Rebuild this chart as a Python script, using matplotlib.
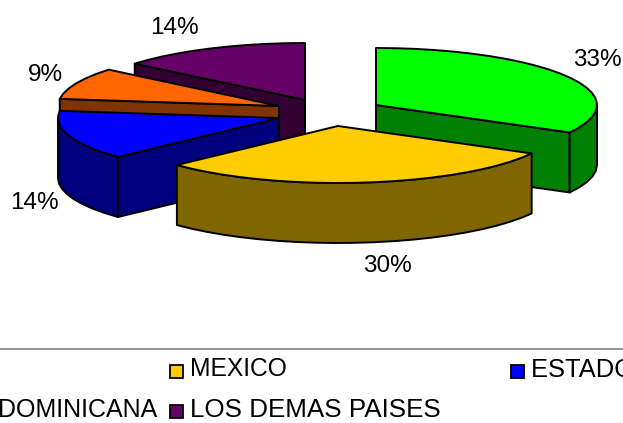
import numpy as np
import matplotlib
matplotlib.use("Agg")
import matplotlib.pyplot as plt
from matplotlib.patches import Polygon, Rectangle

plt.rcParams['font.family'] = ['Liberation Sans', 'DejaVu Sans']

# data
shares = [33, 30, 14, 9, 14]
top_colors = ['#00FF00', '#FFCC00', '#0000FF', '#FF6600', '#660066']
side_colors = ['#007F00', '#806600', '#00007F', '#7F3300', '#330033']
label_positions = [(597, 60), (387, 266), (34, 203), (45, 75), (174, 28)]
legend_rows = [
    (170, 371, '#FFCC00', 'MEXICO', 17.7, 369),
    (511, 371, '#0000FF', 'ESTADOS UNIDOS', 18.4, 370),
    (170, 411, '#660066', 'LOS DEMAS PAISES', 18.75, 410),
]
clipped_label = 'DOMINICANA'

# layout of the exploded 3-D pie (pixels)
centers = [(376, 105), (338, 126), (279, 118), (279, 106), (305, 100)]
RX, RY, DEPTH = 221, 57, 60
draw_order = [4, 3, 2, 0, 1]
LW = 1.4

fig = plt.figure(figsize=(6.23, 4.23), dpi=100)
ax = fig.add_axes([0, 0, 1, 1])
ax.set_xlim(0, 623)
ax.set_ylim(423, 0)
ax.axis('off')


def rim(c, a, b):
    n = max(2, int(abs(b - a) / 5) + 1)
    t = np.radians(np.linspace(a, b, n))
    return np.column_stack([c[0] + RX * np.sin(t), c[1] - RY * np.cos(t)])


def poly(pts, color, z):
    ax.add_patch(Polygon(pts, closed=True, facecolor=color, edgecolor='black',
                         linewidth=LW, joinstyle='round', zorder=z))


edges = np.concatenate([[0], np.cumsum(shares)]) / sum(shares) * 360
down = np.array([0, DEPTH])
for rank, i in enumerate(draw_order):
    a, b, c = edges[i], edges[i + 1], np.array(centers[i], float)
    z = 2 + rank
    if np.sin(np.radians(a)) < -1e-9:
        e = rim(c, a, a)[0]
        poly([e, c, c + down, e + down], side_colors[i], z)
    if np.sin(np.radians(b)) > 1e-9:
        e = rim(c, b, b)[0]
        poly([e, c, c + down, e + down], side_colors[i], z)
    lo, hi = max(a, 90), min(b, 270)
    if hi > lo:
        r = rim(c, lo, hi)
        poly(np.vstack([r, (r + down)[::-1]]), side_colors[i], z)
    poly(np.vstack([[c], rim(c, a, b)]), top_colors[i], z)

for s, (x, y) in zip(shares, label_positions):
    ax.text(x, y, f'{s}%', ha='center', va='center', fontsize=17.5, color='black', zorder=20)

# legend, its frame and outer entries run off the canvas
ax.plot([0, 623], [349, 349], color='#808080', lw=1.2, zorder=1)
for x, y, color, name, size, ty in legend_rows:
    ax.add_patch(Rectangle((x, y - 6), 13, 13, facecolor=color, edgecolor='black', lw=1.3, zorder=5))
    ax.text(x + 20, ty, name, ha='left', va='center', fontsize=size, color='black',
            clip_on=True, zorder=6)
ax.text(157, 410, clipped_label, ha='right', va='center', fontsize=18, color='black',
        clip_on=True, zorder=6)

fig.savefig('out.png', dpi=100, facecolor='white')
